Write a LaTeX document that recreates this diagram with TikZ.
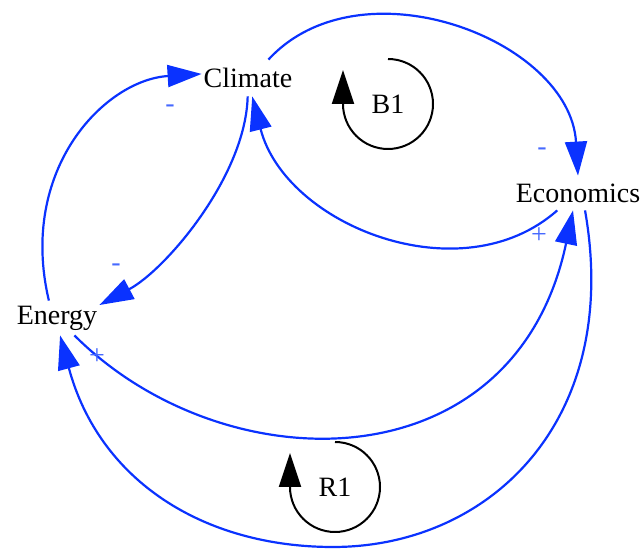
\documentclass[tikz,border=0pt]{standalone}
\usepackage{fontspec}
\setmainfont{Liberation Serif}
\usetikzlibrary{arrows.meta}
\definecolor{linkblue}{RGB}{10,50,255}
\definecolor{signblue}{RGB}{70,105,255}

\begin{document}
\begin{tikzpicture}[x=0.5pt, y=-0.5pt,
var/.style = {inner sep=0pt, minimum height=17pt, font=\fontsize{14}{16}\selectfont},
sign/.style = {inner sep=0pt, text=signblue, font=\fontsize{14}{16}\selectfont},
link/.style = {draw=linkblue, line width=1.1pt, -{Triangle[length=17pt,width=11pt]}},
loopline/.style = {draw=black, line width=1pt, -{Triangle[length=17pt,width=11pt]}}]
\useasboundingbox (0,0) rectangle (644,549);
\node[var, minimum width=46pt, minimum height=18pt] (climate) at (248,78) {Climate};
\node[var, minimum width=62pt] (economics) at (578,193) {Economics};
\node[var, minimum width=42pt] (energy) at (57,318) {Energy};
\node[var] (b1) at (388,104) {B1};
\node[var] (r1) at (335,487) {R1};
\draw[link] (energy.115) .. controls +(-31,-131) and +(-97,6) .. (climate.175);
\draw[link] (climate.-91) .. controls +(-2,80) and +(66,-35) .. (energy.17);
\draw[link] (climate.42) .. controls +(92,-100) and +(-8,-136) .. (economics.north);
\draw[link] (economics.-140) .. controls +(-96,85) and +(33,129) .. (climate.-77);
\draw[link] (energy.-45) .. controls +(150,150) and +(-58,276) .. (economics.-106);
\draw[link] (economics.-68) .. controls +(37,210) and +(157,0) .. (333,547)
  .. controls +(-130,0) and +(39,145) .. (energy.-80);
\draw[loopline] (b1.center) ++(0,-45) arc[start angle=-90, end angle=180, radius=45] -- ++(0,-34);
\draw[loopline] (r1.center) ++(0,-45) arc[start angle=-90, end angle=180, radius=45] -- ++(0,-34);
\node[sign] (m1) at (170,109) {-};
\node[sign] (m2) at (116,268) {-};
\node[sign] (m3) at (542,152) {-};
\node[sign] (p1) at (539,236) {+};
\node[sign] (p2) at (97,357) {+};
\end{tikzpicture}
\end{document}
